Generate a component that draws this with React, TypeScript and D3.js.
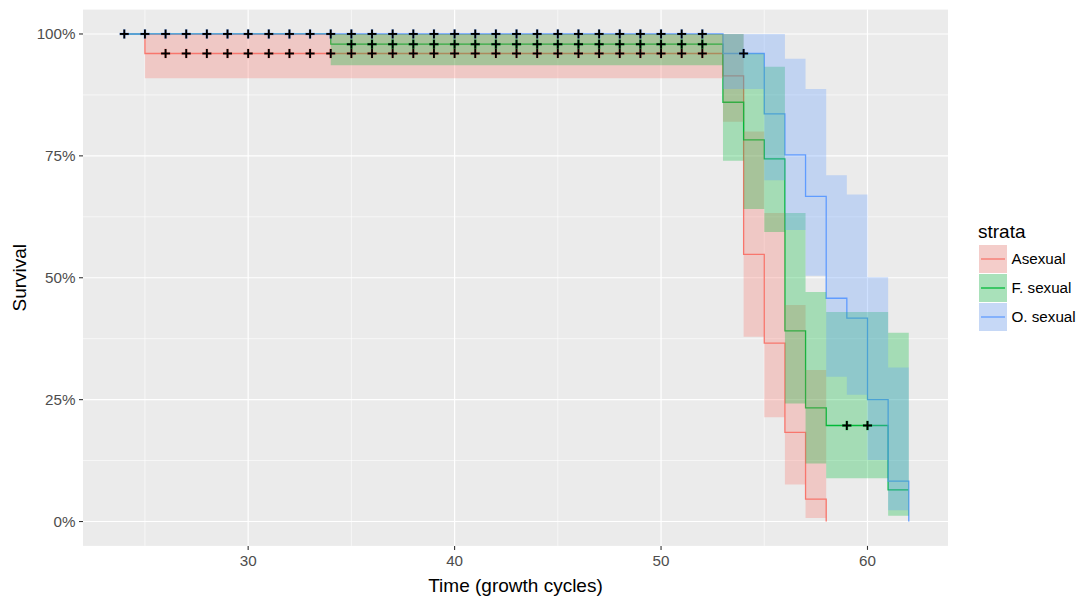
import React from "react";
import * as d3 from "d3";

// ---- Data ----
const strataNames = ["Asexual", "F. sexual", "O. sexual"];
const strataColors = ["#F8766D", "#00BA38", "#619CFF"];

const timeAsexual = [24, 25, 53, 54, 55, 56, 57, 58];
const survAsexual = [1, 0.96, 0.914, 0.548, 0.366, 0.183, 0.046, 0];
const lowerAsexual = [1, 0.909, 0.82, 0.379, 0.214, 0.076, 0.007, 0];
const upperAsexual = [1, 1, 1, 0.8, 0.633, 0.444, 0.311, 0];
const censorAsexual = [26, 27, 28, 29, 30, 31, 32, 33, 34, 35, 36, 37, 38, 39, 40, 41, 42, 43, 44, 45, 46, 47, 48, 49, 50, 51, 52];

const timeFsexual = [24, 34, 53, 54, 55, 56, 57, 58, 61, 62];
const survFsexual = [1, 0.979, 0.86, 0.783, 0.744, 0.391, 0.233, 0.197, 0.065, 0.065];
const lowerFsexual = [1, 0.936, 0.74, 0.641, 0.594, 0.242, 0.119, 0.089, 0.012, 0.012];
const upperFsexual = [1, 1, 1, 0.96, 0.933, 0.633, 0.471, 0.43, 0.387, 0.387];
const censorFsexual = [35, 36, 37, 38, 39, 40, 41, 42, 43, 44, 45, 46, 47, 48, 49, 50, 51, 52, 59, 60];

const timeOsexual = [24, 53, 55, 56, 57, 58, 59, 60, 61, 62];
const survOsexual = [1, 0.96, 0.836, 0.752, 0.667, 0.458, 0.417, 0.25, 0.083, 0];
const lowerOsexual = [1, 0.887, 0.7, 0.598, 0.504, 0.297, 0.26, 0.126, 0.023, 0];
const upperOsexual = [1, 1, 1, 0.949, 0.887, 0.71, 0.671, 0.501, 0.316, 0];
const censorOsexual = [24, 25, 26, 27, 28, 29, 30, 31, 32, 33, 34, 35, 36, 37, 38, 39, 40, 41, 42, 43, 44, 45, 46, 47, 48, 49, 50, 51, 52, 54];

const xTicks = [30, 40, 50, 60];
const xMinor = [25, 35, 45, 55];
const yTicks = [0, 0.25, 0.5, 0.75, 1];
const yMinor = [0.125, 0.375, 0.625, 0.875];
const yTickLabels = ["0%", "25%", "50%", "75%", "100%"];

type Pt = { t: number; s: number; lo: number; hi: number };

function build(time: number[], surv: number[], lo: number[], hi: number[]): Pt[] {
  return time.map((t, i) => ({ t, s: surv[i], lo: lo[i], hi: hi[i] }));
}

const series = [
  { pts: build(timeAsexual, survAsexual, lowerAsexual, upperAsexual), censor: censorAsexual, time: timeAsexual, surv: survAsexual },
  { pts: build(timeFsexual, survFsexual, lowerFsexual, upperFsexual), censor: censorFsexual, time: timeFsexual, surv: survFsexual },
  { pts: build(timeOsexual, survOsexual, lowerOsexual, upperOsexual), censor: censorOsexual, time: timeOsexual, surv: survOsexual },
];

function survAt(time: number[], surv: number[], t: number): number {
  let v = surv[0];
  for (let i = 0; i < time.length; i++) if (time[i] <= t) v = surv[i];
  return v;
}

const W = 1086;
const H = 601;
const panel = { left: 83, right: 948, top: 9.6, bottom: 545.9 };
const FONT = "'Liberation Sans', Arial, Helvetica, sans-serif";

export default function App() {
  const x = d3.scaleLinear().domain([22, 63.9]).range([panel.left, panel.right]);
  const y = d3.scaleLinear().domain([-0.05, 1.05]).range([panel.bottom, panel.top]);

  const line = d3
    .line<Pt>()
    .x((d) => x(d.t))
    .y((d) => y(d.s))
    .curve(d3.curveStepAfter);
  const area = d3
    .area<Pt>()
    .x((d) => x(d.t))
    .y0((d) => y(d.lo))
    .y1((d) => y(d.hi))
    .curve(d3.curveStepAfter);

  const plus = (cx: number, cy: number, key: string, color: string) => (
    <g key={key}>
      <g stroke={color} strokeWidth={2.6} strokeOpacity={0.6}>
        <line x1={cx - 4.8} x2={cx + 4.8} y1={cy} y2={cy} />
        <line x1={cx} x2={cx} y1={cy - 4.8} y2={cy + 4.8} />
      </g>
      <g stroke="#000" strokeWidth={1.9}>
        <line x1={cx - 4.5} x2={cx + 4.5} y1={cy} y2={cy} />
        <line x1={cx} x2={cx} y1={cy - 4.5} y2={cy + 4.5} />
      </g>
    </g>
  );

  const legendX = 979;
  const legendY0 = 245;
  const keySize = 28;
  const keyStep = 29;

  return (
    <svg
      width={W}
      height={H}
      style={{ position: "absolute", left: 0, top: 0, display: "block", background: "#fff" }}
      fontFamily={FONT}
    >
      <rect x={0} y={0} width={W} height={H} fill="#fff" />
      {/* panel */}
      <rect x={panel.left} y={panel.top} width={panel.right - panel.left} height={panel.bottom - panel.top} fill="#EBEBEB" />
      {xMinor.map((v) => (
        <line key={"xm" + v} x1={x(v)} x2={x(v)} y1={panel.top} y2={panel.bottom} stroke="#fff" strokeWidth={0.6} />
      ))}
      {yMinor.map((v) => (
        <line key={"ym" + v} x1={panel.left} x2={panel.right} y1={y(v)} y2={y(v)} stroke="#fff" strokeWidth={0.6} />
      ))}
      {xTicks.map((v) => (
        <line key={"xM" + v} x1={x(v)} x2={x(v)} y1={panel.top} y2={panel.bottom} stroke="#fff" strokeWidth={1.2} />
      ))}
      {yTicks.map((v) => (
        <line key={"yM" + v} x1={panel.left} x2={panel.right} y1={y(v)} y2={y(v)} stroke="#fff" strokeWidth={1.2} />
      ))}

      {/* survival lines */}
      {series.map((s, i) => (
        <path key={"l" + i} d={line(s.pts) || ""} fill="none" stroke={strataColors[i]} strokeWidth={1.3} />
      ))}
      {/* confidence ribbons */}
      {series.map((s, i) => (
        <path key={"a" + i} d={area(s.pts) || ""} fill={strataColors[i]} fillOpacity={0.3} stroke="none" />
      ))}
      {/* censor marks */}
      {series.map((s, i) =>
        s.censor.map((c) => plus(x(c), y(survAt(s.time, s.surv, c)), `c${i}-${c}`, strataColors[i]))
      )}

      {/* axes ticks */}
      {xTicks.map((v) => (
        <g key={"xt" + v}>
          <line x1={x(v)} x2={x(v)} y1={panel.bottom} y2={panel.bottom + 4} stroke="#333" strokeWidth={1.1} />
          <text x={x(v)} y={panel.bottom + 20.5} textAnchor="middle" fontSize={15.2} fill="#4D4D4D">
            {v}
          </text>
        </g>
      ))}
      {yTicks.map((v, i) => (
        <g key={"yt" + v}>
          <line x1={panel.left - 4} x2={panel.left} y1={y(v)} y2={y(v)} stroke="#333" strokeWidth={1.1} />
          <text x={panel.left - 7.5} y={y(v)} dy="0.36em" textAnchor="end" fontSize={15.2} fill="#4D4D4D">
            {yTickLabels[i]}
          </text>
        </g>
      ))}

      {/* axis titles */}
      <text x={(panel.left + panel.right) / 2} y={592} textAnchor="middle" fontSize={19} fill="#000">
        Time (growth cycles)
      </text>
      <text
        transform={`translate(25.5, ${(panel.top + panel.bottom) / 2}) rotate(-90)`}
        textAnchor="middle"
        fontSize={19}
        fill="#000"
      >
        Survival
      </text>

      {/* legend */}
      <text x={978} y={238} fontSize={19} fill="#000">
        strata
      </text>
      {strataNames.map((name, i) => {
        const ky = legendY0 + i * keyStep;
        return (
          <g key={"lg" + i}>
            <rect x={legendX} y={ky} width={keySize} height={keySize} fill="#F2F2F2" />
            <rect x={legendX} y={ky} width={keySize} height={keySize} fill={strataColors[i]} fillOpacity={0.3} />
            <line x1={legendX + 2} x2={legendX + keySize - 2} y1={ky + keySize / 2} y2={ky + keySize / 2} stroke={strataColors[i]} strokeWidth={1.3} />
            <text x={1011.5} y={ky + keySize / 2} dy="0.36em" fontSize={15.2} fill="#000">
              {name}
            </text>
          </g>
        );
      })}
    </svg>
  );
}
